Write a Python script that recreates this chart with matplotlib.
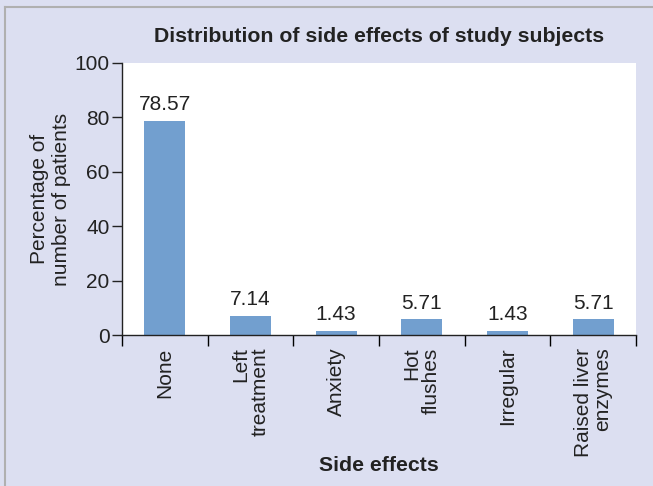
import numpy as np
import matplotlib.pyplot as plt
from matplotlib.lines import Line2D

categories = ['None', 'Left\ntreatment', 'Anxiety', 'Hot\nflushes', 'Irregular', 'Raised liver\nenzymes']
percentages = [78.57, 7.14, 1.43, 5.71, 1.43, 5.71]
value_labels = ['78.57', '7.14', '1.43', '5.71', '1.43', '5.71']

plt.rcParams['font.family'] = ['Liberation Sans', 'DejaVu Sans']

bg = '#dcdff1'
bar_color = '#729fcf'
ink = '#222222'
fs = 15

fig = plt.figure(figsize=(6.53, 4.86), dpi=100, facecolor=bg)
ax = fig.add_axes([122 / 653, 1 - 335 / 486, (636 - 122) / 653, (335 - 63) / 486])
ax.set_facecolor('white')

x = np.arange(len(categories))
ax.bar(x, percentages, width=0.48, color=bar_color, zorder=2)
for xi, v, lab in zip(x, percentages, value_labels):
    ax.annotate(lab, (xi, v), xytext=(0, 5), textcoords='offset points',
                ha='center', va='bottom', fontsize=fs, color=ink)

ax.set_xlim(-0.5, len(categories) - 0.5)
ax.set_ylim(0, 100)
ax.set_yticks([0, 20, 40, 60, 80, 100])
ax.tick_params(axis='y', direction='out', length=7, width=1, labelsize=fs,
               colors=ink, pad=2)

# category labels at bar centres, boundary ticks as minor ticks
ax.set_xticks(x)
ax.set_xticklabels(categories, rotation=90, fontsize=fs, color=ink,
                   va='top', ha='center', multialignment='right', linespacing=1.05)
ax.tick_params(axis='x', which='major', length=0, pad=9)
ax.set_xticks(np.arange(-0.5, len(categories)), minor=True)
ax.tick_params(axis='x', which='minor', direction='out', length=8, width=1)

for s in ['top', 'right']:
    ax.spines[s].set_visible(False)
for s in ['left', 'bottom']:
    ax.spines[s].set_color(ink)
    ax.spines[s].set_linewidth(1)

ax.set_title('Distribution of side effects of study subjects', fontsize=15.3,
             fontweight='bold', color=ink, pad=15)
ax.set_xlabel('Side effects', fontsize=15.3, fontweight='bold', color=ink)
ax.xaxis.set_label_coords(0.5, -0.445)
ax.set_ylabel('Percentage of\nnumber of patients', fontsize=fs, color=ink,
              linespacing=1.2)
ax.yaxis.set_label_coords(-0.1, 0.5)

# grey frame along left and top edges
fig.add_artist(Line2D([5 / 653, 5 / 653], [0, 1 - 7 / 486], transform=fig.transFigure,
                      color='#b0b0b0', lw=1.5))
fig.add_artist(Line2D([5 / 653, 1], [1 - 7 / 486, 1 - 7 / 486], transform=fig.transFigure,
                      color='#b0b0b0', lw=1.5))

fig.savefig('out.png', dpi=100, facecolor=bg)
